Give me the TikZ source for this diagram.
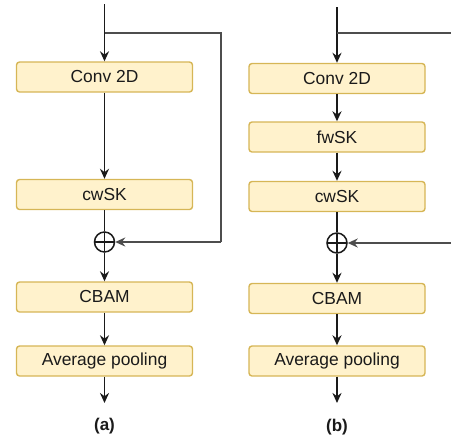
\documentclass[tikz,border=0pt]{standalone}
\usepackage{fontspec}
\setmainfont{Liberation Sans}
\usetikzlibrary{positioning, arrows.meta, calc}
\definecolor{blkfill}{HTML}{FFF2CC}
\definecolor{blkedge}{HTML}{D6B656}
\definecolor{lntext}{HTML}{1A1A1A}
\definecolor{skipgrey}{HTML}{4D4D4D}

\begin{document}
\begin{tikzpicture}[x=0.5pt, y=-0.5pt,
  blockbox/.style={rectangle, rounded corners=1.5pt, fill=blkfill, draw=blkedge,
                   line width=0.7pt, minimum width=88pt, minimum height=15pt,
                   inner sep=0pt, text=lntext, font=\fontsize{8.7}{10}\selectfont},
  addnode/.style={circle, draw=lntext, line width=0.75pt, minimum size=10pt,
                  inner sep=0pt,
                  path picture={\draw[lntext, line width=0.75pt]
                    (path picture bounding box.north) -- (path picture bounding box.south)
                    (path picture bounding box.west) -- (path picture bounding box.east);}},
  arrowstyle/.style={-{Stealth[length=5pt, width=4.5pt]}, color=lntext, line width=0.8pt},
  skipline/.style={color=skipgrey, line width=0.8pt},
  caption/.style={font=\fontsize{8.5}{10}\selectfont\bfseries, text=lntext}
]
\useasboundingbox (0,0) rectangle (451,441);

% (a)
\foreach \i/\y/\t in {1/77/{Conv 2D}, 2/194.5/{cwSK}, 3/297/{CBAM}, 4/361/{Average pooling}} {
  \node[blockbox] (a\i) at (104.5,\y) {\t};
}
\node[addnode] (aplus) at (104.5,242) {};
\coordinate (ain) at (104.5,4);
\coordinate (asplit) at (104.5,33);
\coordinate (askip) at (221,242);
\coordinate (aout) at (104.5,403);

\draw[color=lntext, line width=0.8pt] (ain) -- (asplit);
\draw[arrowstyle] (asplit) -- (a1.north);
\draw[arrowstyle] (a1) -- (a2);
\draw[color=lntext, line width=0.8pt] (a2) -- (aplus);
\draw[arrowstyle] (aplus) -- (a3);
\draw[arrowstyle] (a3) -- (a4);
\draw[arrowstyle] (a4) -- (aout);
\draw[skipline] (asplit) -| (askip);
\draw[arrowstyle, skipline] (askip) -- (aplus.east);
\node[caption] (acap) at (104.5,426) {(a)};

% (b)
\foreach \i/\y/\t in {1/78.5/{Conv 2D}, 2/137/{fwSK}, 3/196.5/{cwSK}, 4/298.5/{CBAM}, 5/361/{Average pooling}} {
  \node[blockbox] (b\i) at (337,\y) {\t};
}
\node[addnode] (bplus) at (337,243) {};
\coordinate (bin) at (337,7);
\coordinate (bsplit) at (337,33);
\coordinate (bskipout) at (451,33);
\coordinate (bskipin) at (451,243);
\coordinate (bout) at (337,403);

\draw[color=lntext, line width=0.8pt] (bin) -- (bsplit);
\draw[arrowstyle] (bsplit) -- (b1.north);
\foreach \a/\b in {1/2,2/3} {
  \draw[arrowstyle] (b\a) -- (b\b);
}
\draw[color=lntext, line width=0.8pt] (b3) -- (bplus);
\draw[arrowstyle] (bplus) -- (b4);
\draw[arrowstyle] (b4) -- (b5);
\draw[arrowstyle] (b5) -- (bout);
\draw[skipline] (bsplit) -- (bskipout);
\draw[arrowstyle, skipline] (bskipin) -- (bplus.east);
\node[caption] (bcap) at (337,427) {(b)};
\end{tikzpicture}
\end{document}
